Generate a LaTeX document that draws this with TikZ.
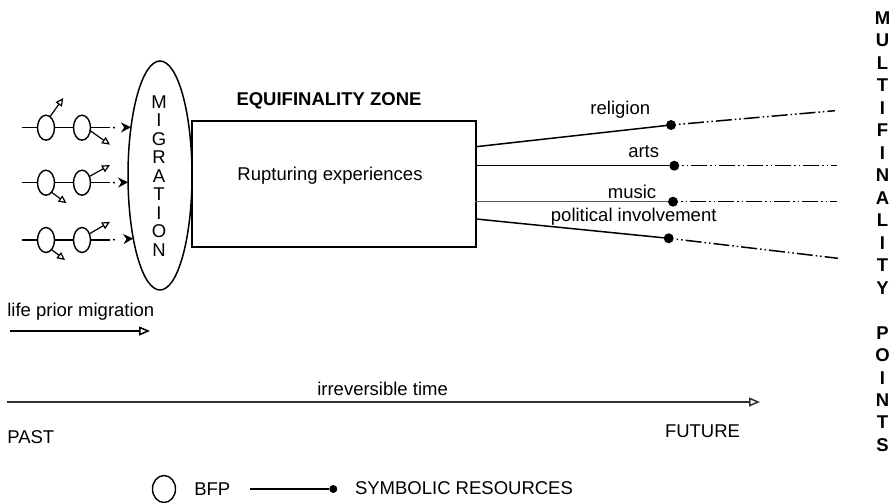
\documentclass[tikz,border=0pt]{standalone}
\usepackage{fontspec}
\setmainfont{Liberation Sans}
\usetikzlibrary{arrows.meta,shapes.geometric}
\begin{document}
\begin{tikzpicture}[x=1pt,y=-1pt,
  every node/.style={inner sep=0pt, outer sep=0pt},
  txt/.style={font=\fontsize{18.5}{22}\selectfont},
  bfp/.style={draw, ellipse, line width=1.4pt, minimum width=17pt, minimum height=25pt},
  ln/.style={line width=1.5pt},
  ext/.style={line width=1.5pt, dash pattern=on 16pt off 3pt on 1.5pt off 3pt on 1.5pt off 3pt, dash phase=16pt},
  dotnode/.style={circle, fill, minimum size=10pt},
  small/.style={line width=1.2pt, -{Triangle[open, length=8pt, width=7.5pt]}},
  into/.style={line width=1.4pt, dash pattern=on 0pt off 3pt on 2pt off 30pt, -{Stealth[length=10pt, width=10pt]}},
  bigarrow/.style={line width=1.5pt, -{Triangle[open, length=11pt, width=9pt]}}
]
\useasboundingbox (0,0) rectangle (894,503);

% migration ellipse
\node[draw, ellipse, line width=1.5pt, minimum width=64pt, minimum height=229pt] (mig) at (160,175.5) {};
\node[font=\fontsize{18.5}{18.5}\selectfont, align=center] (migtxt) at (159,176) {M\\I\\G\\R\\A\\T\\I\\O\\N};

% equifinality zone
\node[draw, rectangle, line width=1.6pt, minimum width=284pt, minimum height=126pt] (zone) at (334,184) {};
\node[font=\fontsize{18.5}{22}\selectfont\bfseries] (eqz) at (329,100.7) {EQUIFINALITY ZONE};
\node[txt] (rupt) at (330,175.7) {Rupturing experiences};

% row 1
\coordinate (r1s) at (21.7,127.7);
\node[bfp] (r1a) at (46,127.7) {};
\node[bfp] (r1b) at (82,127.7) {};
\coordinate (r1e) at (110,127.7);
\draw[ln] (r1s) -- (r1a) (r1a) -- (r1b) (r1b) -- (r1e);
\draw[into] (r1e) -- (mig.121.3);
\draw[small] (r1a.70) -- ++(13.3,-18.7);
\draw[small] (r1b.-20) -- ++(19.75,14);

% row 2
\coordinate (r2s) at (21.7,182.7);
\node[bfp] (r2a) at (46,182.7) {};
\node[bfp] (r2b) at (82,182.7) {};
\coordinate (r2e) at (110,182.7);
\draw[ln] (r2s) -- (r2a) (r2a) -- (r2b) (r2b) -- (r2e);
\draw[into] (r2e) -- (mig.192.7);
\draw[small] (r2a.-60) -- ++(15,11);
\draw[small] (r2b.40) -- ++(20.6,-11.5);

% row 3
\coordinate (r3s) at (21.7,240);
\node[bfp] (r3a) at (46,240) {};
\node[bfp] (r3b) at (82,240) {};
\coordinate (r3e) at (110,240);
\draw[ln] (r3s) -- (r3a) (r3a) -- (r3b) (r3b) -- (r3e);
\draw[into] (r3e) -- (mig.247.7);
\draw[small] (r3a.-60) -- ++(13.5,10.5);
\draw[small] (r3b.40) -- ++(20.6,-12);

% outgoing lines
\node[dotnode] (relD) at (671,125) {};
\coordinate (relE) at (835,110.7);
\draw[ln] ([yshift=-25.7pt]zone.north east) -- (relD);
\draw[ext] (relD) -- (relE);
\node[txt] (relL) at (620.3,109.3) {religion};

\node[dotnode] (artD) at (674.3,165.7) {};
\coordinate (artE) at (837,165.7);
\draw[ln] ([yshift=-44.7pt]zone.north east) -- (artD);
\draw[ext] (artD) -- (artE);
\node[txt] (artL) at (643.7,151.7) {arts};

\node[dotnode] (musD) at (673,201.7) {};
\coordinate (musE) at (837,201.7);
\draw[line width=1.2pt, black!65] ([yshift=-80.7pt,xshift=-1pt]zone.north east) -- (musD);
\draw[ext] (musD) -- (musE);
\node[txt] (musL) at (632,191.7) {music};

\node[dotnode] (polD) at (668.7,238.3) {};
\coordinate (polE) at (838,258.3);
\draw[ln] ([yshift=-98pt]zone.north east) -- (polD);
\draw[ext] (polD) -- (polE);
\node[txt] (polL) at (633.7,216.7) {political involvement};

% multifinality points
\node[font=\fontsize{18.5}{22.47}\selectfont\bfseries, align=center] (multi) at (882.5,231.7) {M\\U\\L\\T\\I\\F\\I\\N\\A\\L\\I\\T\\Y\\\mbox{}\\P\\O\\I\\N\\T\\S};

% time
\node[txt, anchor=west] (life) at (7.3,312) {life prior migration};
\coordinate (lifeS) at (10,331);
\coordinate (lifeE) at (150,331);
\draw[bigarrow] (lifeS) -- (lifeE);
\node[txt, anchor=west] (irr) at (317.3,388.7) {irreversible time};
\coordinate (timeS) at (7.3,402);
\coordinate (timeE) at (760,402);
\draw[bigarrow, black!80] (timeS) -- (timeE);
\node[txt, anchor=west] (past) at (7.3,437) {PAST};
\node[txt, anchor=west] (future) at (665,431) {FUTURE};

% legend
\node[bfp, minimum width=23pt, minimum height=27pt] (legB) at (164,489) {};
\node[txt, anchor=west] (bfpL) at (194.3,489.3) {BFP};
\coordinate (legS) at (250,489);
\node[dotnode, minimum size=8pt] (legD) at (333.3,489) {};
\draw[ln] (legS) -- (legD);
\node[txt, anchor=west] (symL) at (355,488.3) {SYMBOLIC RESOURCES};
\end{tikzpicture}
\end{document}
